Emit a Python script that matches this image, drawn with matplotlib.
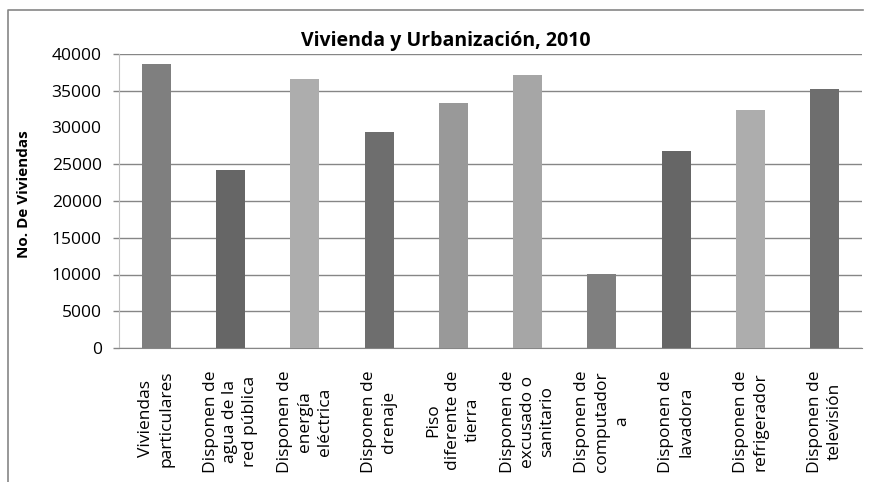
import matplotlib
matplotlib.use('Agg')
import matplotlib.pyplot as plt
from matplotlib.lines import Line2D
import numpy as np

plt.rcParams['font.family'] = ['Open Sans', 'DejaVu Sans']

categorias = [
    "Viviendas\nparticulares",
    "Disponen de\nagua de la\nred pública",
    "Disponen de\nenergía\neléctrica",
    "Disponen de\ndrenaje",
    "Piso\ndiferente de\ntierra",
    "Disponen de\nexcusado o\nsanitario",
    "Disponen de\ncomputador\na",
    "Disponen de\nlavadora",
    "Disponen de\nrefrigerador",
    "Disponen de\ntelevisión",
]
viviendas = [38640, 24220, 36600, 29390, 33370, 37180, 10030, 26800, 32380, 35240]
grises = ['#7f7f7f', '#666666', '#adadad', '#6e6e6e', '#999999',
          '#a6a6a6', '#7f7f7f', '#666666', '#adadad', '#6e6e6e']
yticks = np.arange(0, 40001, 5000)
sin_linea = [30000]  # level drawn without grid line or tick mark

fig = plt.figure(figsize=(8.7, 4.82), dpi=100)
ax = fig.add_axes([119/870, 1 - 348/482, (862 - 119)/870, (348 - 54)/482])

x = np.arange(len(categorias))
ax.bar(x, viviendas, width=0.39, color=grises, zorder=3)

ax.set_xlim(-0.5, len(categorias) - 0.5)
ax.set_ylim(0, 40000)
ax.set_yticks(yticks)
ax.set_yticklabels([str(v) for v in yticks], fontsize=12.5)
ax.tick_params(axis='y', length=0, pad=12.5)
ax.set_xticks(x)
ax.set_xticklabels(categorias, rotation=90, fontsize=12.5, ha='center', va='top',
                   multialignment='center', linespacing=1.32)
ax.tick_params(axis='x', length=0, pad=16)

# grid lines and outward tick marks
niveles = [v for v in yticks if v not in sin_linea]
ax.hlines(niveles, 0, 1, transform=ax.get_yaxis_transform(), color='#868686',
          linewidth=1, zorder=1)
ax.hlines(niveles, -0.008, 0, transform=ax.get_yaxis_transform(), color='#868686',
          linewidth=1, clip_on=False)

for s in ['top', 'right']:
    ax.spines[s].set_visible(False)
ax.spines['left'].set_color('#c0c0c0')
ax.spines['bottom'].set_color('#868686')

fig.text(24/870, 1 - 194/482, 'No. De Viviendas', rotation=90, fontsize=11,
         fontweight='bold', ha='center', va='center')

fig.text(446/870, 1 - 41/482, 'Vivienda y Urbanización, 2010', fontsize=14,
         fontweight='bold', ha='center', va='center')

# chart frame (top and left edges)
fig.add_artist(Line2D([8/870, 8/870, 863/870], [0, 1 - 10/482, 1 - 10/482],
                      transform=fig.transFigure, color='#868686', linewidth=1.2))

fig.savefig('out.png', dpi=100)
